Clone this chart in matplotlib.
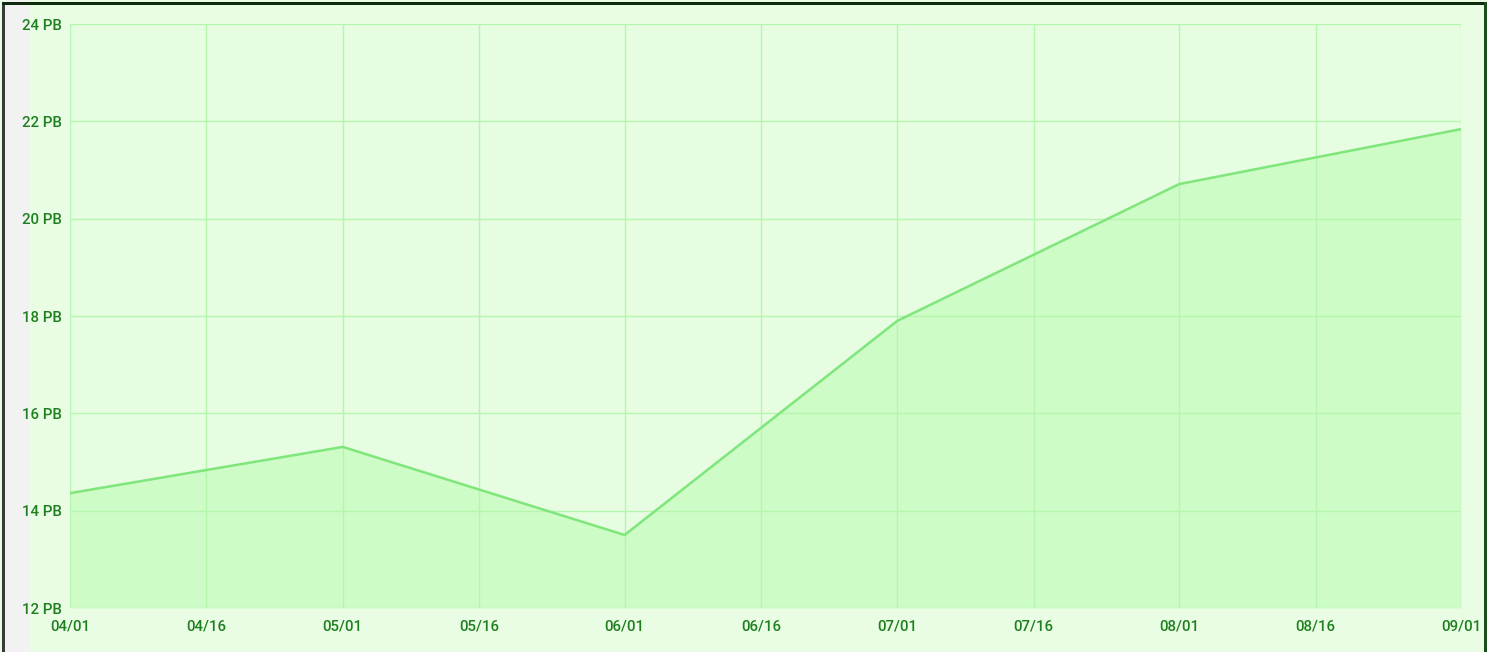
import numpy as np
import pandas as pd
import matplotlib
matplotlib.use("Agg")
import matplotlib.pyplot as plt
import matplotlib.dates as mdates
import matplotlib.ticker as ticker
from matplotlib.patches import Rectangle

# storage used (PB)
dates = pd.to_datetime(["2023-04-01", "2023-05-01", "2023-06-01",
                        "2023-07-01", "2023-08-01", "2023-09-01"])
usage_pb = [14.36, 15.31, 13.5, 17.9, 20.71, 21.84]
y_ticks = [12, 14, 16, 18, 20, 22, 24]

label_col = "#1f7f1f"
grid_col = "#b6f5ae"
line_col = "#7fe67b"

plt.rcParams["font.family"] = ["Roboto", "DejaVu Sans"]

W, H = 1494, 652
fig = plt.figure(figsize=(W / 100, H / 100), dpi=100, facecolor="white")

# background + frame
fig.patches.append(Rectangle((0, 0), 1, 1, transform=fig.transFigure,
                             facecolor="#e8fde4", edgecolor="none", zorder=-5))
fig.patches.append(Rectangle((5 / W, 0), 25 / W, 1, transform=fig.transFigure,
                             facecolor="#f1f2f1", edgecolor="none", zorder=-4))
fig.patches.append(Rectangle((1487 / W, 0), 7 / W, 1, transform=fig.transFigure,
                             facecolor="white", edgecolor="none", zorder=-4))
fig.patches.append(Rectangle((2 / W, 0), 3 / W, 1 - 2 / H, transform=fig.transFigure,
                             facecolor="#3a3a3a", edgecolor="none", zorder=-3))
fig.patches.append(Rectangle((2 / W, 1 - 5 / H), 1485 / W, 3 / H, transform=fig.transFigure,
                             facecolor="#0f2a0f", edgecolor="none", zorder=-3))
fig.patches.append(Rectangle((1484 / W, 0), 3 / W, 1 - 2 / H, transform=fig.transFigure,
                             facecolor="#1b4d1b", edgecolor="none", zorder=-3))

ax = fig.add_axes([70 / W, 1 - 608 / H, (1461 - 70) / W, (608 - 24) / H])
ax.set_facecolor("#e6fde1")

ax.fill_between(dates, usage_pb, 12, color="#cdfcc6", linewidth=0, zorder=1)
ax.plot(dates, usage_pb, color=line_col, linewidth=1.8, zorder=3)

ax.set_xlim(dates[0], dates[-1])
ax.set_ylim(12, 24)
ax.set_yticks(y_ticks)
ax.yaxis.set_major_formatter(ticker.FuncFormatter(lambda v, p: "%d PB" % v))
ax.xaxis.set_major_locator(mdates.DayLocator(bymonthday=[1, 16]))
ax.xaxis.set_major_formatter(mdates.DateFormatter("%m/%d"))

ax.grid(True, color=grid_col, linewidth=1, zorder=2)
ax.set_axisbelow(False)
for s in ax.spines.values():
    s.set_visible(False)
ax.tick_params(length=0, labelsize=10.8, labelcolor=label_col)
ax.tick_params(axis="x", pad=8)
ax.tick_params(axis="y", pad=6)
for lab in ax.get_xticklabels() + ax.get_yticklabels():
    lab.set_fontweight("medium")

fig.savefig("out.png", dpi=100, facecolor=fig.get_facecolor())
